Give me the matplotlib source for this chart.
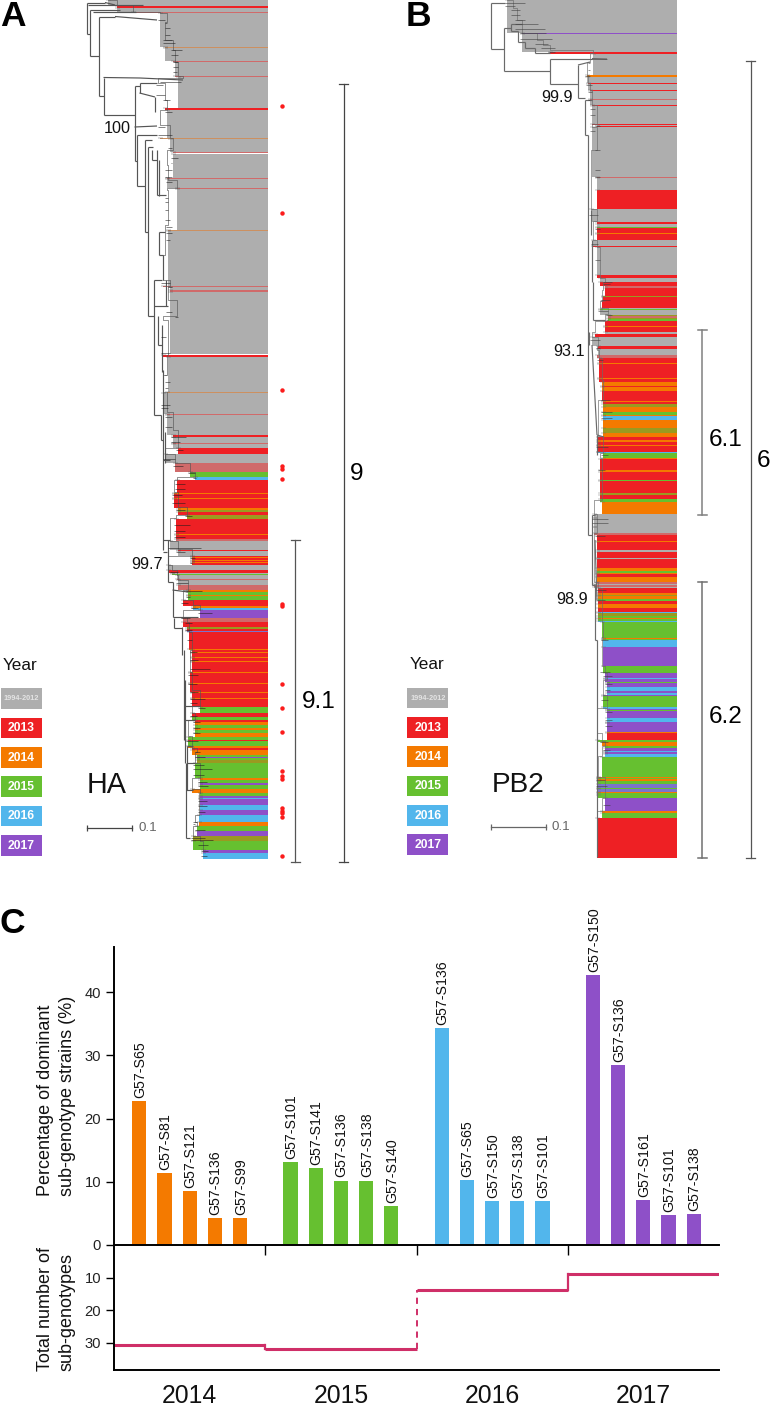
import numpy as np
import matplotlib
matplotlib.use('Agg')
import matplotlib.pyplot as plt
from matplotlib.collections import LineCollection

plt.rcParams['font.family'] = ['Liberation Sans', 'DejaVu Sans']

W, H = 771, 1408

# colour codes used by the tree stripes
GREY, RED, ORANGE, GREEN, BLUE, PURPLE, PALE, OLIVE, SLATE, TAN = range(10)
year_colors = ['#aeaeae', '#ee2024', '#f47a00', '#66c030', '#52b6ec', '#8e50c8',
               '#d06a6a', '#9a9a20', '#7c74cc', '#cc9060']
legend_labels = ['1994-2012', '2013', '2014', '2015', '2016', '2017']

# ---- panel A, HA tree
a_band_top = [0, 5.5, 8, 12.3, 13.3, 47, 48, 61, 62,
              75.6, 77, 108, 110, 137.5, 139, 152.3, 153.5,
              178.3, 179.3, 188, 189, 229.6, 230.8, 285.6, 286.6,
              290, 291.6, 354.5, 357, 391.5, 393, 414, 415,
              435, 437, 442.5, 443.5, 447.5, 454, 463, 472,
              477, 480, 492.5, 494, 498, 499, 507.5, 509.5,
              511.5, 515, 518.5, 533.5, 535, 538.5, 541, 549.5,
              551, 556, 557, 558, 559.7, 560.5, 561.7, 562.5,
              565, 569.5, 573, 574, 575, 578.5, 580, 584.5,
              590, 591.5, 595, 596, 600, 605.7, 607.7, 610,
              617.5, 621.7, 627.3, 629.3, 631, 632, 649.2, 650,
              652.2, 653, 657.2, 658, 661.3, 662, 672.2, 673,
              683.2, 684, 692, 692.8, 698, 699, 706.7, 713.3,
              716.7, 720, 721.5, 725, 728, 730, 732.7, 736.7,
              739.5, 740.7, 746, 748.3, 750, 755, 757, 758,
              760, 763.3, 778.3, 780, 783.3, 785.3, 789, 793.3,
              796, 797.5, 798.7, 805, 810, 815, 821.7, 826,
              830.7, 836, 840.7, 850, 853.3]
a_band_year = [GREY, RED, GREY, PALE, GREY, TAN, GREY, PALE, GREY,
               PALE, GREY, RED, GREY, TAN, GREY, PALE, GREY,
               PALE, GREY, PALE, GREY, TAN, GREY, PALE, GREY,
               PALE, GREY, RED, GREY, TAN, GREY, PALE, GREY,
               RED, GREY, PALE, GREY, RED, GREY, PALE, GREEN,
               BLUE, RED, ORANGE, RED, ORANGE, RED, ORANGE, OLIVE,
               RED, OLIVE, RED, ORANGE, RED, PALE, GREY, RED,
               GREY, RED, ORANGE, RED, ORANGE, RED, ORANGE, RED,
               GREY, RED, GREY, GREEN, GREY, PALE, GREY, PALE,
               ORANGE, GREEN, ORANGE, GREEN, RED, ORANGE, BLUE, PURPLE,
               PALE, RED, OLIVE, RED, SLATE, RED, ORANGE, RED,
               ORANGE, RED, ORANGE, RED, ORANGE, RED, ORANGE, RED,
               ORANGE, RED, ORANGE, RED, ORANGE, RED, GREEN, RED,
               GREEN, RED, ORANGE, GREEN, ORANGE, GREEN, ORANGE, GREEN,
               RED, GREEN, ORANGE, RED, ORANGE, GREEN, PURPLE, GREEN,
               OLIVE, GREEN, ORANGE, GREEN, PURPLE, GREEN, ORANGE, GREEN,
               PURPLE, BLUE, PURPLE, BLUE, PURPLE, BLUE, ORANGE, GREEN,
               PURPLE, OLIVE, GREEN, PURPLE, BLUE]
a_band_end = 858.5

a_front_top = [0, 5, 12, 13.3, 22, 40, 50, 62, 76, 78, 83, 100, 110, 125, 138, 150, 165, 180,
               188, 190, 225, 255, 280, 286, 300, 316, 320, 355, 375, 392, 412, 430, 447.5,
               454, 463, 472, 477, 480, 492, 507, 515, 518, 541, 549, 556, 565, 570, 575,
               580, 590, 600, 605, 610, 617, 622, 632, 650, 672, 690, 706, 713, 720, 736,
               748, 752, 763, 778, 789, 793, 815, 822, 826, 836, 841, 850]
a_front_x = [108, 117, 133, 160, 167, 165, 173, 175, 178, 183, 158, 165, 167, 160, 170, 173, 167, 168,
             177, 167, 168, 165, 163, 170, 168, 177, 163, 168, 167, 163, 167, 173, 178,
             165, 175, 190, 195, 177, 174, 178, 187, 176, 170, 178, 192, 168, 172, 177,
             178, 188, 183, 193, 200, 183, 187, 189, 192, 190, 192, 200, 192, 195, 188,
             192, 197, 195, 200, 192, 200, 199, 195, 197, 193, 200, 203]

a_twig_y = [20, 23, 28, 35, 40, 43, 50, 55, 62, 67, 72, 82, 85, 95, 100, 112, 127, 135, 143, 148,
            158, 163, 170, 177, 182, 198, 202, 210, 220, 227, 233, 240, 283, 287, 312, 317, 337,
            353, 375, 382, 388, 405, 408, 417, 427, 437, 442, 450, 459, 466, 473, 478, 484, 489,
            495, 503, 510, 516, 525, 531, 537, 547.7, 552, 558, 563, 572, 583, 591, 597, 603, 608,
            613, 618, 623, 630, 640, 652, 660, 669, 675, 684, 692, 699, 703, 708, 716, 722, 728,
            733, 741, 752, 757, 765, 769, 775, 782, 786, 795, 801, 806, 812, 822, 824, 830, 838,
            840, 845, 851, 856]
a_twig_end = [165, 167, 170, 170, 172, 175, 182, 178, 178, 178, 177, 160, 163, 165, 170, 172, 165, 172, 168, 172,
              178, 172, 172, 172, 172, 168, 168, 168, 170, 172, 172, 170, 170, 172, 172, 178, 166,
              170, 166, 170, 168, 170, 168, 172, 172, 186, 180, 183, 175, 183, 195, 196, 185, 185,
              182, 185, 185, 192, 190, 185, 185, 201, 185, 195, 192, 178, 188, 202, 190, 188, 198,
              212, 190, 192, 192, 192, 197, 198, 210, 198, 197, 198, 205, 197, 205, 197, 200, 200,
              200, 198, 200, 205, 204, 212, 204, 207, 208, 198, 207, 207, 205, 197, 195, 205, 205,
              213, 208, 208, 207]

# elbows of the backbone: x0, y0, x1, y1
a_branches = [(86.5, 2.5, 86.5, 33.5), (86.5, 2.5, 105, 2.5), (105, 2.5, 115, 5), (88, 4.5, 143, 4.5),
              (86.5, 33.5, 89.5, 33.5), (89.5, 10, 89.5, 56), (89.5, 10, 120, 10), (93, 12, 136, 12),
              (89.5, 56, 98.7, 56), (98.7, 16.5, 98.7, 96), (98.7, 16.5, 115, 16.5), (115, 16.5, 157, 20),
              (98.7, 96, 103.5, 96), (103.5, 77.5, 103.5, 115), (103.5, 77.5, 140, 78), (140, 78, 183, 80),
              (103.5, 115, 134.5, 115), (134.5, 86, 134.5, 161), (134.5, 86, 139.5, 86), (139.5, 83, 139.5, 93),
              (139.5, 83, 157, 83), (139.5, 93, 155, 97), (155, 97, 155, 112), (134.5, 127, 157, 126),
              (134.5, 161, 136.5, 161), (136.5, 135, 136.5, 186), (136.5, 135, 157, 135), (136.5, 186, 144.5, 186),
              (144.5, 140, 144.5, 232), (144.5, 140, 152, 140), (144.5, 232, 148, 232), (148, 147, 148, 316),
              (148, 147, 153, 147), (152, 150, 152, 160), (152, 160, 157, 160), (157, 150, 157, 195),
              (159, 160, 159, 196), (157, 195, 166, 195), (148, 316, 153.5, 316), (153.5, 280, 153.5, 415),
              (153.5, 280, 162, 280), (163, 255, 163, 280), (159, 232, 165, 232), (159, 232, 159, 255),
              (159, 255, 163, 255), (166, 280, 166, 306), (153.5, 306, 168, 306), (153.5, 415, 161, 415),
              (158, 316, 158, 345), (162, 325, 162, 372), (158, 345, 162, 345), (163, 370, 163, 550),
              (161, 415, 161, 440), (161, 440, 163, 440), (163, 552, 167, 552), (167.5, 540, 167.5, 582),
              (163, 460, 170, 460), (165, 432, 165, 463), (163, 540, 170, 540), (167.5, 582, 172.5, 582),
              (172.5, 582, 172.5, 617), (172.5, 590, 188, 592), (172.5, 617, 198, 617), (174, 618, 174, 628),
              (174, 628, 182, 628), (182, 627, 182, 655), (183.5, 650, 183.5, 740), (184.5, 680, 184.5, 763),
              (184.5, 706, 200, 706), (184.5, 720, 195, 720), (186, 763, 186, 838), (186, 790, 193, 790),
              (186, 838, 190, 838), (187, 746, 187, 790), (187, 746, 193, 746), (187, 763, 195, 763)]

# ---- panel B, PB2 tree
b_band_top = [0, 33, 34, 52, 53.5, 75.2, 76.6, 83, 84, 90, 91,
              98.5, 100, 105, 106, 123.5, 124.8, 125.8, 127, 176.5, 178,
              190, 209, 221.7, 224, 227.2, 228, 232.7, 233.7, 240, 246,
              247, 274.7, 278, 281.7, 285.5, 287.5, 296.2, 297, 300.5, 301.2,
              307.5, 308.7, 309.5, 314.5, 316, 317.5, 318.5, 321, 326, 326.8,
              331.7, 333.7, 337.3, 346, 349.3, 355, 358.3, 363, 364, 378.3,
              379.2, 382, 386, 386.7, 390.7, 401.3, 402.2, 404, 407.3, 411.7,
              415.3, 416, 420, 428.3, 433.3, 436.7, 440, 441.7, 445, 446,
              451.7, 452.3, 453.3, 457.7, 458.7, 470, 471.7, 480, 481, 493.3,
              495, 499.3, 501.7, 514, 517.5, 518.3, 526.5, 527.2, 532.7, 534.7,
              541, 542, 550, 552, 558, 559.3, 568.3, 570.7, 572.7, 574.3,
              576.7, 581.7, 583.5, 585, 586.5, 588, 592.7, 594.5, 595.5, 599.3,
              601, 603.7, 607.7, 611.7, 613.3, 616, 618, 619, 621, 622,
              637.7, 638.7, 640, 647.3, 665.7, 673.3, 678, 678.7, 679, 681.7,
              682.5, 683.5, 687, 690.7, 693.3, 695, 696, 707.3, 708.7, 709.5,
              711, 718.3, 721.7, 722.7, 723.2, 731.7, 732.7, 740, 742.3, 746,
              747.5, 751, 751.7, 752.7, 754.3, 757, 777, 778.3, 779, 780.7,
              784, 788.3, 789, 792, 793.3, 795, 798, 811, 812.7, 817.7]
b_band_year = [GREY, PURPLE, GREY, RED, GREY, ORANGE, GREY, RED, GREY, RED, GREY,
               PALE, GREY, RED, GREY, RED, GREY, RED, GREY, PALE, GREY,
               RED, GREY, RED, GREY, GREEN, RED, ORANGE, RED, GREY, RED,
               GREY, RED, GREY, RED, PALE, RED, OLIVE, RED, OLIVE, RED,
               GREY, GREEN, GREY, OLIVE, PALE, OLIVE, GREEN, RED, ORANGE, RED,
               GREY, RED, GREY, RED, GREY, PALE, RED, ORANGE, RED, ORANGE,
               RED, ORANGE, RED, ORANGE, RED, ORANGE, RED, OLIVE, ORANGE, GREEN,
               ORANGE, BLUE, ORANGE, OLIVE, ORANGE, RED, ORANGE, RED, ORANGE, RED,
               ORANGE, BLUE, GREEN, ORANGE, RED, ORANGE, RED, GREEN, RED, OLIVE,
               RED, GREEN, ORANGE, GREY, RED, GREY, RED, GREY, PALE, RED,
               ORANGE, RED, GREY, RED, GREY, RED, ORANGE, GREEN, ORANGE, RED,
               ORANGE, PALE, GREY, PALE, GREY, RED, ORANGE, OLIVE, ORANGE, GREEN,
               RED, ORANGE, RED, BLUE, OLIVE, GREEN, ORANGE, GREEN, BLUE, GREEN,
               ORANGE, GREEN, BLUE, PURPLE, GREEN, PURPLE, BLUE, PURPLE, PURPLE, GREEN,
               PURPLE, PURPLE, BLUE, PURPLE, BLUE, PURPLE, GREEN, BLUE, PURPLE, GREEN,
               PURPLE, BLUE, PURPLE, BLUE, PURPLE, ORANGE, RED, GREEN, ORANGE, GREEN,
               PURPLE, BLUE, PURPLE, PURPLE, BLUE, GREEN, ORANGE, GREEN, ORANGE, GREEN,
               SLATE, GREEN, SLATE, ORANGE, GREEN, GREEN, PURPLE, ORANGE, GREEN, RED]
b_band_end = 857.7

b_front_top = [0, 8, 20, 33, 40, 45, 50, 53, 62, 75, 83, 90, 105, 124, 127, 150, 209, 221, 240,
               247, 278, 282, 290, 301, 308, 314, 321, 332, 337, 346, 350, 358, 380, 400, 436,
               453, 458, 500, 514, 533, 582, 588, 622, 637, 666, 673, 680, 695, 708, 733, 741,
               746, 756, 777, 798, 811, 817]
b_front_x = [507, 513, 517, 522, 537, 543, 550, 593, 590, 587, 588, 590, 592, 597, 592, 597, 591, 597, 593,
             597, 600, 605, 603, 602, 600, 608, 605, 595, 592, 598, 597, 599, 602, 603, 598,
             603, 600, 602, 594, 597, 594, 598, 602, 603, 602, 605, 607, 603, 607, 597, 602,
             605, 602, 598, 605, 602, 597]

b_twig_y = [3, 6, 10, 15, 20, 24, 29, 33, 39, 44, 48, 52, 59, 63, 70, 76, 85, 92, 100, 109, 115, 126, 131,
            150, 170, 177, 215, 229, 244, 260, 282, 284, 300, 311, 315, 320, 340, 348, 360, 400, 412, 418,
            447, 455, 470, 519, 523, 536, 590, 600, 640, 672, 676, 684, 690, 700, 712, 720, 726, 742, 750, 780, 786, 805]
b_twig_end = [525, 515, 520, 520, 525, 538, 545, 546, 552, 548, 555, 555, 607, 590, 590, 590, 592, 592, 590, 595, 595, 600, 595,
              600, 600, 600, 598, 600, 598, 600, 612, 610, 610, 608, 612, 608, 600, 600, 603, 610, 612, 612,
              608, 608, 605, 608, 608, 605, 606, 605, 608, 610, 612, 612, 610, 608, 612, 612, 612, 608, 610, 605, 607, 610]

b_branches = [(490.7, 2.5, 490.7, 49), (490.7, 2.5, 505, 2.5), (490.7, 49, 504, 49), (504, 28, 504, 71),
              (504, 28, 511, 28), (511, 24, 511, 31), (511, 24, 522, 24), (511, 31, 518, 31), (518, 31, 518, 42),
              (518, 42, 525, 42), (525, 42, 525, 48), (525, 48, 535, 48), (535, 48, 535, 53), (535, 53, 550, 53),
              (504, 71, 550, 71), (550, 58.5, 550, 84), (550, 58.5, 592, 58.5), (592, 58.5, 607, 59),
              (550, 84, 578, 84), (578, 65, 578, 98), (578, 65, 590, 62), (578, 98, 585, 98), (585, 100, 585, 135),
              (585, 100, 592, 100), (585, 135, 588, 135), (588, 135, 588, 535), (588, 535, 591.5, 535),
              (591.5, 514.5, 591.5, 585), (591.5, 514.5, 595, 514.5), (591.5, 585, 595, 585), (595, 585, 595, 640),
              (595, 640, 596.5, 640), (596.5, 640, 596.5, 857), (591, 210, 591, 235), (592, 240, 592, 282),
              (593, 282, 593, 320), (593, 320, 605, 320), (589, 332, 589, 345), (592, 345, 597, 435), (597, 435, 597, 455),
              (597, 435, 604, 437), (595, 540, 597, 600)]

# red dots beside the HA tree
dot_y = [106.3, 213.3, 390, 465.7, 469.3, 479.3, 604.3, 606.3, 683.7, 708, 731.7,
         771.3, 776, 778.7, 808.3, 811, 813.3, 817, 856.3]

# ---- panel C
groups = ['2014', '2015', '2016', '2017']
group_colors = [year_colors[ORANGE], year_colors[GREEN], year_colors[BLUE], year_colors[PURPLE]]
bar_names = [['G57-S65', 'G57-S81', 'G57-S121', 'G57-S136', 'G57-S99'],
             ['G57-S101', 'G57-S141', 'G57-S136', 'G57-S138', 'G57-S140'],
             ['G57-S136', 'G57-S65', 'G57-S150', 'G57-S138', 'G57-S101'],
             ['G57-S150', 'G57-S136', 'G57-S161', 'G57-S101', 'G57-S138']]
bar_values = [[22.8, 11.4, 8.5, 4.2, 4.2],
              [13.2, 12.2, 10.2, 10.2, 6.1],
              [34.3, 10.3, 6.9, 6.9, 6.9],
              [42.7, 28.5, 7.1, 4.8, 4.9]]
total_subgenotypes = [30.6, 32, 13.9, 9]


def px_axes(x0, y0, x1, y1):
    return fig.add_axes([x0 / W, 1 - y1 / H, (x1 - x0) / W, (y1 - y0) / H])


def draw_bands(ax, tops, years, end, front_top, front_x, right):
    tops = np.array(tops, dtype=float)
    bottoms = np.append(tops[1:], end)
    idx = np.searchsorted(front_top, tops + 0.01, side='right') - 1
    lefts = np.array(front_x, dtype=float)[idx]
    ax.barh(tops, right - lefts, left=lefts, height=bottoms - tops, align='edge',
            color=[year_colors[y] for y in years], linewidth=0, zorder=1)
    return tops, lefts


def draw_tree(ax, branches, front_top, front_x, twig_y, twig_end, tops, lefts, color, lw, twig_color):
    ax.add_collection(LineCollection([[(b[0], b[1]), (b[2], b[3])] for b in branches],
                                     colors=color, linewidths=lw, zorder=3))
    ax.step(np.array(front_x, dtype=float), front_top, where='post', color=color, lw=0.45, zorder=3)
    idx = np.searchsorted(front_top, np.array(twig_y) + 0.01, side='right') - 1
    starts = np.array(front_x, dtype=float)[idx] - 2
    ax.hlines(twig_y, starts, twig_end, colors=twig_color, linewidth=0.38, zorder=4)
    ax.hlines(tops, lefts - 2, lefts + 2.5, colors=color, linewidth=0.3, zorder=3)


def bracket(ax, x, y0, y1, color, lw):
    ax.plot([x, x], [y0, y1], color=color, lw=lw, zorder=3)
    ax.plot([x - 4.5, x + 4.5], [y0, y0], color=color, lw=lw, zorder=3)
    ax.plot([x - 4.5, x + 4.5], [y1, y1], color=color, lw=lw, zorder=3)


def year_legend(ax, x0, year_x, year_base, box_tops):
    ax.text(year_x, year_base, 'Year', fontsize=12.3, va='baseline', color='#111111')
    for i, (name, top) in enumerate(zip(legend_labels, box_tops)):
        ax.bar(x0 + 20.5, 20.6, width=41, bottom=top, color=year_colors[i], linewidth=0, zorder=2)
        if i == 0:
            ax.text(x0 + 20.5, top + 10.6, name, fontsize=5.3, fontweight='bold', color='#e4e4e4',
                    ha='center', va='center')
        else:
            ax.text(x0 + 20.5, top + 10.6, name, fontsize=8.7, fontweight='bold', color='white',
                    ha='center', va='center')


fig = plt.figure(figsize=(W / 100, H / 100), dpi=100, facecolor='white')

# full figure axes in picture units for the two trees and all loose text
ax = fig.add_axes([0, 0, 1, 1])
ax.set_xlim(0, W)
ax.set_ylim(H, 0)
ax.axis('off')

a_tops, a_lefts = draw_bands(ax, a_band_top, a_band_year, a_band_end, a_front_top, a_front_x, 268.3)
draw_tree(ax, a_branches, a_front_top, a_front_x, a_twig_y, a_twig_end, a_tops, a_lefts, '#555555', 0.85, '#1c1c1c')
b_tops, b_lefts = draw_bands(ax, b_band_top, b_band_year, b_band_end, b_front_top, b_front_x, 677.3)
draw_tree(ax, b_branches, b_front_top, b_front_x, b_twig_y, b_twig_end, b_tops, b_lefts, '#6a6a6a', 0.85, '#3a3a3a')

ax.plot([282] * len(dot_y), dot_y, 'o', color='#fb1c1c', ms=3.2, mew=0, zorder=3)

# brackets and clade labels
bracket(ax, 343.7, 83.5, 861.5, '#444444', 0.9)
bracket(ax, 295, 540, 861.5, '#555555', 0.9)
bracket(ax, 750.7, 61, 858, '#555555', 0.9)
bracket(ax, 702, 330, 514.5, '#808080', 1.1)
bracket(ax, 702, 581.5, 858, '#707070', 1.1)

big = 17.5
ax.text(350, 480, '9', fontsize=big, va='baseline')
ax.text(302, 708, '9.1', fontsize=big, va='baseline')
ax.text(757, 467, '6', fontsize=big, va='baseline')
ax.text(709, 446, '6.1', fontsize=big, va='baseline')
ax.text(709, 723, '6.2', fontsize=big, va='baseline')

for x, y, s in [(104, 132.7, '100'), (131, 569, '99.7'), (541.7, 102, '99.9'),
                (553, 356, '93.1'), (556.7, 604, '98.9')]:
    ax.text(x, y, s, fontsize=11.7, va='baseline', color='#111111')

ax.text(0, 26, 'A', fontsize=25.5, fontweight='bold', va='baseline')
ax.text(405.5, 25.5, 'B', fontsize=25.5, fontweight='bold', va='baseline')
ax.text(-0.5, 933, 'C', fontsize=25.5, fontweight='bold', va='baseline')

ax.text(87, 792.7, 'HA', fontsize=20.7, va='baseline', color='#111111')
ax.text(491.7, 791.7, 'PB2', fontsize=20.2, va='baseline', color='#111111')

year_legend(ax, 0.5, 3, 670, [688.3, 717.7, 747, 776.3, 805.7, 835])
year_legend(ax, 407.3, 409.5, 669.3, [687.7, 717, 746.3, 775.6, 805, 834.3])

# scale bars
ax.plot([86.5, 131.7], [827.7, 827.7], color='#444444', lw=0.9, marker='|', ms=4.5, mew=0.9)
ax.text(138.5, 827.7, '0.1', fontsize=9.6, color='#666666', va='center')
ax.plot([490.7, 545.7], [827, 827], color='#666666', lw=0.9, marker='|', ms=4.5, mew=0.9)
ax.text(551.7, 827, '0.1', fontsize=9.6, color='#666666', va='center')

# y labels of panel C, two lines each with their start aligned
label_kw = dict(fontsize=13, rotation=90, ha='center', va='bottom', color='#111111')
ax.text(45.5, 1196, 'Percentage of dominant', **label_kw)
ax.text(67.5, 1196, 'sub-genotype strains (%)', **label_kw)
ax.text(45.5, 1370.7, 'Total number of', **label_kw)
ax.text(67.5, 1370.7, 'sub-genotypes', **label_kw)

# panel C bars
ax_bar = px_axes(114, 946.7, 719, 1245)
ax_bar.patch.set_alpha(0)
for g in range(len(groups)):
    xs = np.arange(5) + 6 * g
    bars = ax_bar.bar(xs, bar_values[g], width=0.565, color=group_colors[g], linewidth=0)
    for x, v, name in zip(xs, bar_values[g], bar_names[g]):
        ax_bar.annotate(name, (x, v), xytext=(0.6, 2.2), textcoords='offset points', rotation=90,
                        ha='center', va='bottom', fontsize=10.2, color='#111111')
ax_bar.set_xlim(-1, 23)
ax_bar.set_ylim(0, 47.2)
ax_bar.set_xticks([])
ax_bar.set_yticks([0, 10, 20, 30, 40])
ax_bar.tick_params(axis='y', length=6, width=1.0, labelsize=10.6, pad=3.2, labelcolor='#222222')
for side in ['top', 'right']:
    ax_bar.spines[side].set_visible(False)
for side in ['left', 'bottom']:
    ax_bar.spines[side].set_linewidth(1.4)

# panel C step line, y axis runs downwards
ax_low = px_axes(114, 1245, 719, 1370)
ax_low.patch.set_alpha(0)
line_color = '#cf2f68'
edges = np.array([-1, 5, 11, 17, 23])
ax_low.hlines(total_subgenotypes, edges[:-1], edges[1:], colors=line_color, linewidth=2.2)
ax_low.plot([5, 5], [total_subgenotypes[0], total_subgenotypes[1]], color=line_color, lw=1.6)
ax_low.plot([11, 11], [total_subgenotypes[1], total_subgenotypes[2]], color=line_color, lw=1.4,
            linestyle=(0, (3.2, 2.6)))
ax_low.plot([17, 17], [total_subgenotypes[2], total_subgenotypes[3]], color=line_color, lw=1.6)
ax_low.set_xlim(-1, 23)
ax_low.set_ylim(38.3, 0)
ax_low.set_yticks([10, 20, 30])
ax_low.tick_params(axis='y', length=6, width=1.0, labelsize=10.6, pad=3.2, labelcolor='#222222')
ax_low.xaxis.tick_top()
ax_low.set_xticks([5, 11, 17])
ax_low.set_xticklabels([])
ax_low.tick_params(axis='x', direction='in', length=7, width=1.0)
ax_low.spines['right'].set_visible(False)
ax_low.spines['top'].set_visible(False)
for side in ['left', 'bottom']:
    ax_low.spines[side].set_linewidth(1.4)
for g, name in enumerate(groups):
    ax_low.text(2 + 6 * g, 48.4, name, fontsize=17.8, ha='center', va='baseline',
                color='#111111', clip_on=False)

fig.savefig('out.png', dpi=100)
